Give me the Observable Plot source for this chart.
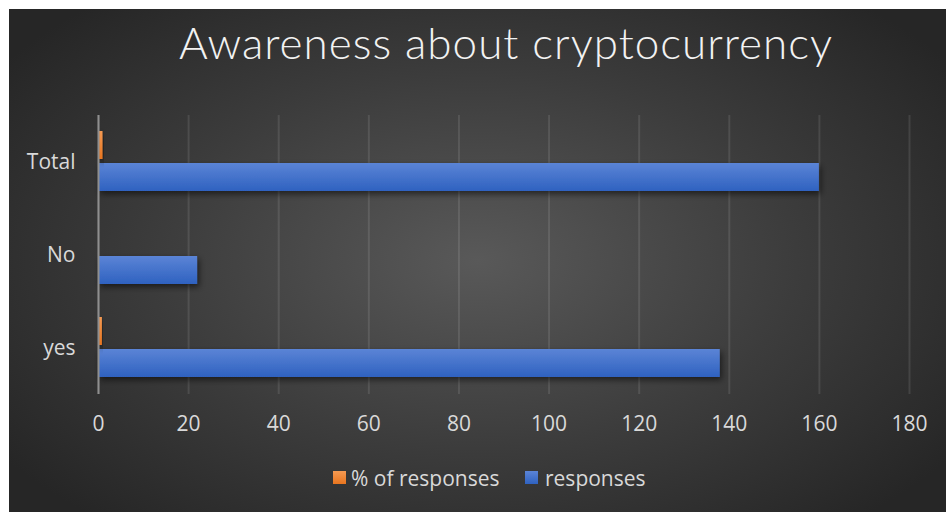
<!DOCTYPE html>
<html>
<head>
<meta charset="utf-8">
<script src="https://cdn.jsdelivr.net/npm/d3@7"></script>
<script src="https://cdn.jsdelivr.net/npm/@observablehq/plot@0.6"></script>
<style>
  html, body { margin: 0; padding: 0; background: #ffffff; }
  #chart {
    position: absolute; left: 9px; top: 9px; width: 937px; height: 503px;
    background: radial-gradient(ellipse 62% 68% at 50% 50%, #595959 0%, #3c3c3c 55%, #262626 100%);
    overflow: hidden; font-family: "Open Sans", sans-serif;
  }
  #title {
    position: absolute; top: 7px; left: 497px; transform: translateX(-50%);
    color: #f2f2f2; font-family: "Lato", "Open Sans", sans-serif; font-weight: 300;
    font-size: 44px; white-space: nowrap; letter-spacing: 1px;
  }
  #plot { position: absolute; left: 0; top: 0; }
  .leg { position: absolute; top: 456px; color: #d9d9d9; font-size: 21px; white-space: nowrap; line-height: 26px; }
  .sw { position: absolute; width: 13px; height: 13px; top: 462px; }
</style>
</head>
<body>
<div id="chart">
  <div id="title">Awareness about cryptocurrency</div>
  <div id="plot"></div>
  <div class="sw" style="left:324px; background: linear-gradient(#f59a52, #e8751f);"></div>
  <div class="leg" style="left:342px;">% of responses</div>
  <div class="sw" style="left:516px; background: linear-gradient(#5b84d6, #2f62c0);"></div>
  <div class="leg" style="left:536px;">responses</div>
</div>
<script>
const categories = ["yes", "No", "Total"];
const responses = [138, 22, 160];
const pctResponses = [0.8625, 0.1375, 1];
const series = ["% of responses", "responses"];
const xTicks = [0, 20, 40, 60, 80, 100, 120, 140, 160, 180];

const data = categories.flatMap((c, i) => [
  {category: c, series: series[0], value: pctResponses[i]},
  {category: c, series: series[1], value: responses[i]}
]);

const svg = Plot.plot({
  width: 937,
  height: 450,
  marginTop: 106,
  marginBottom: 65,
  marginLeft: 89,
  marginRight: 37,
  style: {background: "transparent", color: "#d9d9d9", fontFamily: "Open Sans, sans-serif", fontSize: "21px", overflow: "visible"},
  x: {domain: [0, 180], ticks: xTicks, tickSize: 0, tickPadding: 22, label: null},
  fy: {domain: ["Total", "No", "yes"], padding: 0, label: null, tickSize: 0, tickPadding: 23},
  y: {domain: series, paddingInner: 0.12, paddingOuter: 0.5, axis: null},
  marks: [
    Plot.ruleX(xTicks, {stroke: "#ffffff", strokeOpacity: 0.1, strokeWidth: 2}),
    Plot.barX(data.filter(d => d.series === series[1]), {x: "value", y: "series", fy: "category", fill: "url(#gBlue)", className: "sbar"}),
    Plot.barX(data.filter(d => d.series === series[0]), {x: "value", y: "series", fy: "category", fill: "url(#gOrange)", className: "sbar"}),
    Plot.ruleX([0], {stroke: "#8f8f8f", strokeWidth: 2})
  ]
});

const defs = d3.select(svg).insert("defs", ":first-child");
const gb = defs.append("linearGradient").attr("id", "gBlue").attr("x1", 0).attr("y1", 0).attr("x2", 0).attr("y2", 1);
gb.append("stop").attr("offset", "0%").attr("stop-color", "#5b84d6");
gb.append("stop").attr("offset", "100%").attr("stop-color", "#2f62c0");
const go = defs.append("linearGradient").attr("id", "gOrange").attr("x1", 0).attr("y1", 0).attr("x2", 0).attr("y2", 1);
go.append("stop").attr("offset", "0%").attr("stop-color", "#f59a52");
go.append("stop").attr("offset", "100%").attr("stop-color", "#e8751f");
const sh = defs.append("filter").attr("id", "shadow").attr("x", "-10%").attr("y", "-30%").attr("width", "130%").attr("height", "180%");
sh.append("feDropShadow").attr("dx", 2).attr("dy", 3).attr("stdDeviation", 3).attr("flood-color", "#000").attr("flood-opacity", 0.55);
d3.select(svg).selectAll("g.sbar rect").attr("filter", "url(#shadow)");

document.getElementById("plot").appendChild(svg);
</script>
</body>
</html>
